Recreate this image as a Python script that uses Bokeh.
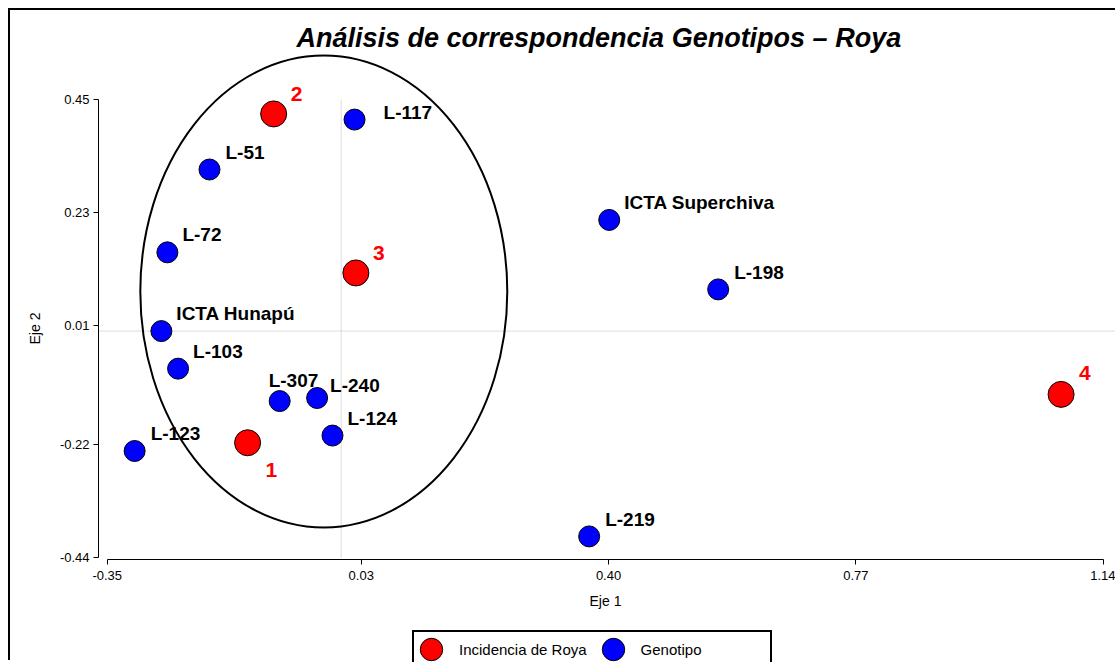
from bokeh.plotting import figure
from bokeh.models import (ColumnDataSource, Legend, LegendItem, FixedTicker,
                          NumeralTickFormatter)
from bokeh.core.properties import value
from bokeh.embed import file_html
from bokeh.resources import INLINE

# ---------------- data ----------------
genotipos = ["L-117", "L-51", "L-72", "ICTA Hunapú", "L-103", "L-307", "L-240",
             "L-124", "L-123", "ICTA Superchiva", "L-198", "L-219"]
gen_eje1 = [0.020, -0.197, -0.260, -0.269, -0.244, -0.092, -0.036, -0.013,
            -0.309, 0.401, 0.564, 0.371]
gen_eje2 = [0.411, 0.314, 0.153, 0.000, -0.073, -0.136, -0.130, -0.203,
            -0.233, 0.216, 0.081, -0.399]

roya = ["1", "2", "3", "4"]
roya_eje1 = [-0.140, -0.101, 0.022, 1.077]
roya_eje2 = [-0.217, 0.422, 0.113, -0.123]

x_ticks = [-0.35, 0.03, 0.40, 0.77, 1.14]
y_ticks = [-0.44, -0.22, 0.01, 0.23, 0.45]

# grouping ellipse (centre, width, height in axis units)
ellipse_center = (-0.026, 0.077)
ellipse_size = (0.549, 0.917)

# ---------------- label placement (screen px) ----------------
gen_dx = [29, 16, 15, 15, 15, -11, 13, 15, 16, 15, 16, 16]
gen_up = [7, 17, 18, 18, 17, 21, 12, 17, 17, 17, 17, 17]
roya_dx = [18, 17, 17, 18]
roya_up = [-27, 20, 20, 21]

FONT = "Liberation Sans"

gen_src = ColumnDataSource(dict(x=gen_eje1, y=gen_eje2, name=genotipos,
                                dx=gen_dx, dy=[-u for u in gen_up]))
roya_src = ColumnDataSource(dict(x=roya_eje1, y=roya_eje2, name=roya,
                                 dx=roya_dx, dy=[-u for u in roya_up]))

# the plot area covers the whole figure below the title; both axes are
# pinned just outside their tick bounds (detached-axis look)
x_axis_gap = 0.013      # y axis sits this far left of the first x tick
y_axis_gap = 0.0039     # x axis sits this far below the first y tick
x_pad_lo, x_pad_hi = 0.1447, 0.0214
y_pad_lo, y_pad_hi = 0.204, 0.0933

p = figure(width=1107, height=652, output_backend="svg", toolbar_location=None,
           x_range=(x_ticks[0] - x_pad_lo, x_ticks[-1] + x_pad_hi),
           y_range=(y_ticks[0] - y_pad_lo, y_ticks[-1] + y_pad_hi),
           min_border_left=0, min_border_right=0, min_border_top=41,
           min_border_bottom=0,
           styles={"border-left": "2px solid black", "border-top": "2px solid black",
                   "margin-left": "8px", "margin-top": "8px"})

p.title.text = "Análisis de correspondencia  Genotipos – Roya"
p.title.text_font = FONT
p.title.text_font_style = "bold italic"
p.title.text_font_size = "27px"
p.title.text_color = "black"
p.title.align = "left"
p.title.offset = 286
p.title.standoff = -3

p.outline_line_color = None
p.grid.visible = False
p.background_fill_color = "white"
p.border_fill_color = "white"

for ax, ticks, lab in ((p.xaxis, x_ticks, "Eje 1"), (p.yaxis, y_ticks, "Eje 2")):
    ax.ticker = FixedTicker(ticks=ticks)
    ax.formatter = NumeralTickFormatter(format="0.00")
    ax.bounds = (ticks[0], ticks[-1])
    ax.axis_label = lab
    ax.axis_label_text_font = FONT
    ax.axis_label_text_font_style = "normal"
    ax.axis_label_text_font_size = "14px"
    ax.major_label_text_font = FONT
    ax.major_label_text_font_size = "13px"
    ax.major_tick_out = 5
    ax.major_tick_in = 0
    ax.minor_tick_line_color = None
    ax.axis_line_color = "black"
    ax.major_tick_line_color = "black"
    ax.major_label_text_color = "black"
    ax.axis_label_text_color = "black"
p.xaxis.fixed_location = y_ticks[0] - y_axis_gap
p.yaxis.fixed_location = x_ticks[0] - x_axis_gap
p.xaxis.major_label_standoff = 6
p.xaxis.axis_label_standoff = 10
p.yaxis.major_label_standoff = 4
p.yaxis.axis_label_standoff = 14

# reference lines at the origin
p.segment(x0=[x_ticks[0] - x_axis_gap], y0=[0], x1=[x_ticks[-1] + x_pad_hi], y1=[0],
          line_color="#dcdcdc", line_width=1)
p.segment(x0=[0], y0=[y_ticks[0]], x1=[0], y1=[y_ticks[-1]],
          line_color="#dcdcdc", line_width=1)

# grouping ellipse
p.ellipse(x=[ellipse_center[0]], y=[ellipse_center[1]],
          width=[ellipse_size[0]], height=[ellipse_size[1]],
          fill_color=None, line_color="black", line_width=2)

r_roya = p.ellipse("x", "y", source=roya_src, width=26, height=26,
                   width_units="screen", height_units="screen",
                   fill_color="red", line_color="black", line_width=1)
r_gen = p.ellipse("x", "y", source=gen_src, width=21, height=21,
                  width_units="screen", height_units="screen",
                  fill_color="blue", line_color="black", line_width=1)

p.text("x", "y", text="name", source=gen_src, x_offset="dx", y_offset="dy",
       text_font=value(FONT), text_font_style="bold", text_font_size="19px",
       text_color="black", text_align="left", text_baseline="alphabetic")
p.text("x", "y", text="name", source=roya_src, x_offset="dx", y_offset="dy",
       text_font=value(FONT), text_font_style="bold", text_font_size="21px",
       text_color="red", text_align="left", text_baseline="alphabetic")

legend = Legend(items=[LegendItem(label="Incidencia de Roya", renderers=[r_roya]),
                       LegendItem(label="Genotipo", renderers=[r_gen])],
                orientation="horizontal", location=(402, -6))
legend.label_text_font = FONT
legend.label_text_font_size = "15px"
legend.label_text_color = "black"
legend.glyph_width = 28
legend.glyph_height = 28
legend.label_standoff = 14
legend.spacing = 12
legend.padding = 3
legend.margin = 0
legend.label_width = 126
legend.border_line_color = "black"
legend.border_line_width = 2
legend.border_line_alpha = 1
legend.background_fill_alpha = 1
p.add_layout(legend, "center")

open("out.html", "w").write(file_html(p, INLINE))
